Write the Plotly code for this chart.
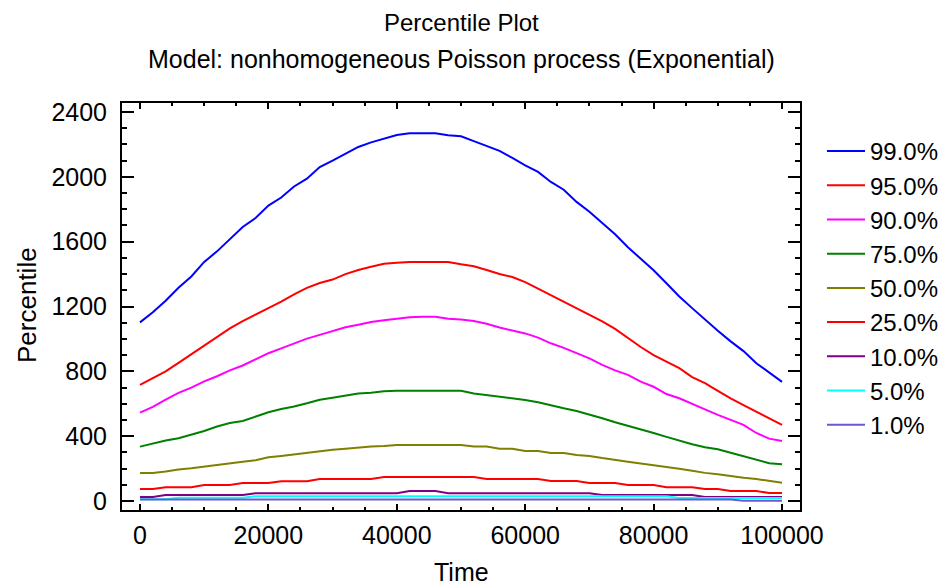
import plotly.graph_objects as go

time = list(range(0, 100001, 2000))

labels = ["99.0%", "95.0%", "90.0%", "75.0%", "50.0%", "25.0%", "10.0%", "5.0%", "1.0%"]
colors = ["#0000FF", "#FF0000", "#FF00FF", "#008000", "#808000", "#FF0000", "#800080", "#00FFFF", "#6A5ACD"]

p99 = [1102, 1164, 1236, 1316, 1385, 1475, 1540, 1612, 1690, 1746,
       1822, 1872, 1940, 1988, 2060, 2100, 2142, 2184, 2212, 2236,
       2258, 2268, 2268, 2268, 2256, 2250, 2220, 2192, 2160, 2116,
       2070, 2030, 1968, 1920, 1845, 1784, 1712, 1645, 1565, 1492,
       1424, 1343, 1262, 1190, 1118, 1050, 985, 925, 850, 790, 735]
p95 = [717, 760, 800, 852, 905, 960, 1010, 1065, 1110, 1150,
       1188, 1230, 1275, 1315, 1345, 1366, 1400, 1425, 1445, 1463,
       1470, 1475, 1475, 1475, 1475, 1460, 1448, 1425, 1400, 1382,
       1350, 1310, 1270, 1230, 1190, 1150, 1108, 1062, 1005, 950,
       900, 860, 820, 765, 728, 680, 633, 592, 552, 510, 470]
p90 = [546, 581, 626, 667, 700, 738, 770, 806, 836, 874,
       912, 942, 972, 1002, 1025, 1050, 1072, 1088, 1105, 1115,
       1124, 1133, 1137, 1137, 1124, 1120, 1110, 1094, 1070, 1052,
       1034, 1008, 973, 945, 914, 880, 840, 806, 778, 737,
       705, 660, 634, 598, 566, 532, 500, 470, 420, 385, 371]
p75 = [336, 356, 373, 388, 410, 432, 460, 481, 494, 520,
       548, 568, 583, 603, 625, 637, 652, 663, 668, 678,
       680, 680, 680, 680, 680, 680, 664, 654, 645, 633,
       624, 610, 590, 572, 555, 535, 511, 486, 465, 444,
       420, 396, 372, 350, 332, 320, 298, 276, 252, 234, 227]
p50 = [173, 173, 182, 195, 203, 214, 224, 234, 243, 252,
       270, 278, 288, 297, 305, 316, 322, 330, 336, 340,
       346, 346, 346, 346, 346, 346, 336, 336, 323, 323,
       309, 309, 297, 297, 284, 278, 265, 252, 243, 232,
       222, 212, 200, 187, 174, 166, 153, 144, 136, 126, 113]
p25 = [74, 74, 86, 86, 86, 99, 99, 99, 111, 111,
       111, 123, 123, 123, 136, 136, 136, 136, 136, 148,
       148, 148, 148, 148, 148, 148, 148, 136, 136, 136,
       136, 136, 124, 124, 124, 111, 111, 111, 99, 99,
       99, 86, 86, 86, 74, 74, 62, 62, 62, 50, 50]
p10 = [25, 25, 37, 37, 37, 37, 37, 37, 37, 49,
       49, 49, 49, 49, 49, 49, 49, 49, 49, 49,
       49, 62, 62, 62, 49, 49, 49, 49, 49, 49,
       49, 49, 49, 49, 49, 49, 37, 37, 37, 37,
       37, 37, 37, 37, 25, 25, 25, 25, 25, 25, 25]
p5 = [12, 12, 12, 20, 20, 20, 20, 20, 20, 30,
      30, 30, 30, 30, 30, 30, 30, 30, 30, 30,
      30, 30, 30, 30, 30, 30, 30, 30, 30, 30,
      30, 30, 30, 30, 30, 30, 30, 30, 30, 30,
      30, 30, 19, 19, 19, 19, 19, 19, 19, 19, 19]
p1 = [10, 10, 10, 10, 10, 10, 10, 10, 10, 10,
      10, 10, 10, 10, 10, 10, 10, 10, 10, 10,
      10, 10, 10, 10, 10, 10, 10, 10, 10, 10,
      10, 10, 10, 10, 10, 10, 10, 10, 10, 10,
      10, 10, 10, 10, 10, 10, 10, 2, 2, 2, 2]

series = [p99, p95, p90, p75, p50, p25, p10, p5, p1]

FONT = "Liberation Sans, Arial, sans-serif"

# The page body adds an 8 px offset; figure coordinates below are screen - 8.
OFF = 8
L, R, T, B = 122 - OFF, 800 - OFF, 103 - OFF, 510 - OFF
W, H = 950, 587

fig = go.Figure()
for lab, col, vals in zip(labels, colors, series):
    fig.add_trace(go.Scatter(x=time, y=vals, mode="lines", name=lab,
                             line=dict(color=col, width=2)))

axis_common = dict(showline=True, linecolor="black", linewidth=2, mirror="ticks",
                   ticks="inside", tickcolor="black", tickwidth=2, showgrid=False,
                   zeroline=False, tickfont=dict(family=FONT, size=25, color="black"))

fig.update_xaxes(range=[-2800, 102800], tick0=0, dtick=20000, ticklen=6,
                 tickformat="d", ticklabelstandoff=2,
                 minor=dict(dtick=5000, tick0=0, ticklen=3, tickwidth=2,
                            tickcolor="black", ticks="inside"),
                 **axis_common)
fig.update_yaxes(range=[-55, 2455], tick0=0, dtick=400, ticklen=12,
                 tickformat="d", ticklabelstandoff=8,
                 minor=dict(dtick=100, tick0=0, ticklen=5, tickwidth=2,
                            tickcolor="black", ticks="inside"),
                 **axis_common)

def py(yscreen):
    return (B - (yscreen - OFF)) / (B - T)

def px(xscreen):
    return ((xscreen - OFF) - L) / (R - L)

annotations = [
    dict(text="Percentile Plot", x=0.5, y=py(22), font=dict(size=24)),
    dict(text="Model: nonhomogeneous Poisson process (Exponential)", x=0.5, y=py(59),
         font=dict(size=25)),
    dict(text="Time", x=0.5, y=py(572), font=dict(size=25)),
    dict(text="Percentile", x=px(27), y=py(305), font=dict(size=26), textangle=-90),
]
for a in annotations:
    a.update(xref="paper", yref="paper", showarrow=False, xanchor="center",
             yanchor="middle")
    a["font"].update(family=FONT, color="black")

fig.update_layout(
    width=W, height=H,
    margin=dict(l=L, r=W - R, t=T, b=H - B),
    paper_bgcolor="white", plot_bgcolor="white",
    annotations=annotations,
    showlegend=True,
    legend=dict(x=px(822), y=py(129), xanchor="left", yanchor="top",
                font=dict(family=FONT, size=24, color="black"),
                itemwidth=38,
                bgcolor="rgba(0,0,0,0)", tracegroupgap=0),
)

fig.write_html("out.html")
